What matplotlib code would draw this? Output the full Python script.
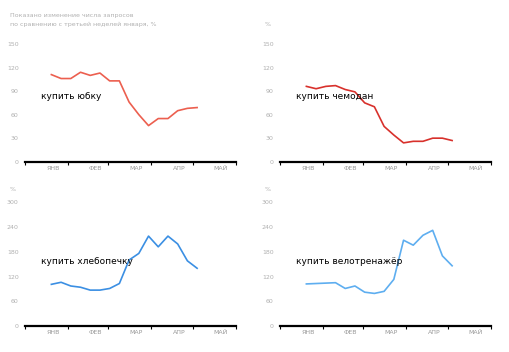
import numpy as np
import matplotlib
matplotlib.use("Agg")
import matplotlib.pyplot as plt

# weekly points, starting from the third week of January 2020
weeks = np.array(["2020-01-20", "2020-01-27", "2020-02-03", "2020-02-10",
                  "2020-02-17", "2020-02-24", "2020-03-02", "2020-03-09",
                  "2020-03-16", "2020-03-23", "2020-03-30", "2020-04-06",
                  "2020-04-13", "2020-04-20", "2020-04-27", "2020-05-04"],
                 dtype="datetime64[D]")

skirt = [111, 106, 106, 114, 110, 113, 103, 103, 76, 60, 46, 55, 55, 65, 68, 69]
suitcase = [96, 93, 96, 97, 92, 89, 75, 70, 45, 34, 24, 26, 26, 30, 30, 27]
breadmaker = [101, 106, 97, 94, 87, 87, 91, 103, 160, 176, 218, 192, 218, 199, 158, 140]
bike = [102, 103, 104, 105, 91, 97, 82, 79, 84, 113, 208, 196, 220, 232, 170, 146]

labels = ["купить юбку", "купить чемодан", "купить хлебопечку", "купить велотренажёр"]
colors = ["#ec5f4f", "#d8312c", "#3b8fe3", "#5eaef0"]
series = [skirt, suitcase, breadmaker, bike]

month_names = ["ЯНВ", "ФЕВ", "МАР", "АПР", "МАЙ"]
month_starts = np.array(["2020-01-01", "2020-02-01", "2020-03-01", "2020-04-01",
                         "2020-05-01", "2020-06-01"], dtype="datetime64[D]")
label_pos = np.array(["2020-01-21", "2020-02-21", "2020-03-21", "2020-04-21",
                      "2020-05-21"], dtype="datetime64[D]")

top_ticks = [0, 30, 60, 90, 120, 150]
bottom_ticks = [0, 60, 120, 180, 240, 300]

plt.rcParams["font.family"] = ["DejaVu Sans"]

fig = plt.figure(figsize=(5.09, 3.52), dpi=100)
fig.patch.set_facecolor("white")

boxes = [
    [0.0491, 0.5406, 0.4145, 0.3344],
    [0.5501, 0.5406, 0.4145, 0.3344],
    [0.0491, 0.0739, 0.4145, 0.3514],
    [0.5501, 0.0739, 0.4145, 0.3514],
]
gray = "#b0b0b0"

for i in range(4):
    ax = fig.add_axes(boxes[i])
    ax.plot(weeks, series[i], color=colors[i], lw=1.2, solid_joinstyle="round")
    ax.set_xlim(month_starts[0], month_starts[-1])
    yt = top_ticks if i < 2 else bottom_ticks
    ax.set_ylim(yt[0], yt[-1])
    ax.set_yticks(yt)
    ax.tick_params(axis="y", length=0, pad=4.5, labelsize=4.5, labelcolor=gray)

    ax.set_xticks(month_starts)
    ax.set_xticklabels([])
    ax.set_xticks(label_pos, minor=True)
    ax.set_xticklabels(month_names, minor=True)
    ax.tick_params(axis="x", which="major", length=2.5, width=0.8, color="black", direction="out")
    ax.tick_params(axis="x", which="minor", length=0, pad=3, labelsize=4.5, labelcolor="#999999")

    for s in ["top", "right", "left"]:
        ax.spines[s].set_visible(False)
    ax.spines["bottom"].set_linewidth(1.6)
    ax.spines["bottom"].set_color("black")
    ax.set_facecolor("white")

    ty = 0.55 if i < 2 else 0.52
    ax.text(0.076, ty, labels[i], transform=ax.transAxes, fontsize=6.5,
            color="black", va="center", ha="left")

# top notes
fig.text(10 / 509, 1 - 16 / 352, "Показано изменение числа запросов",
         fontsize=4.5, color=gray, va="center", ha="left")
fig.text(10 / 509, 1 - 24.5 / 352, "по сравнению с третьей неделей января, %",
         fontsize=4.5, color=gray, va="center", ha="left")
fig.text(265 / 509, 1 - 24 / 352, "%", fontsize=4.5, color=gray, va="center", ha="left")
fig.text(10 / 509, 1 - 189 / 352, "%", fontsize=4.5, color=gray, va="center", ha="left")
fig.text(265 / 509, 1 - 189 / 352, "%", fontsize=4.5, color=gray, va="center", ha="left")

fig.savefig("out.png", dpi=100, facecolor="white")
